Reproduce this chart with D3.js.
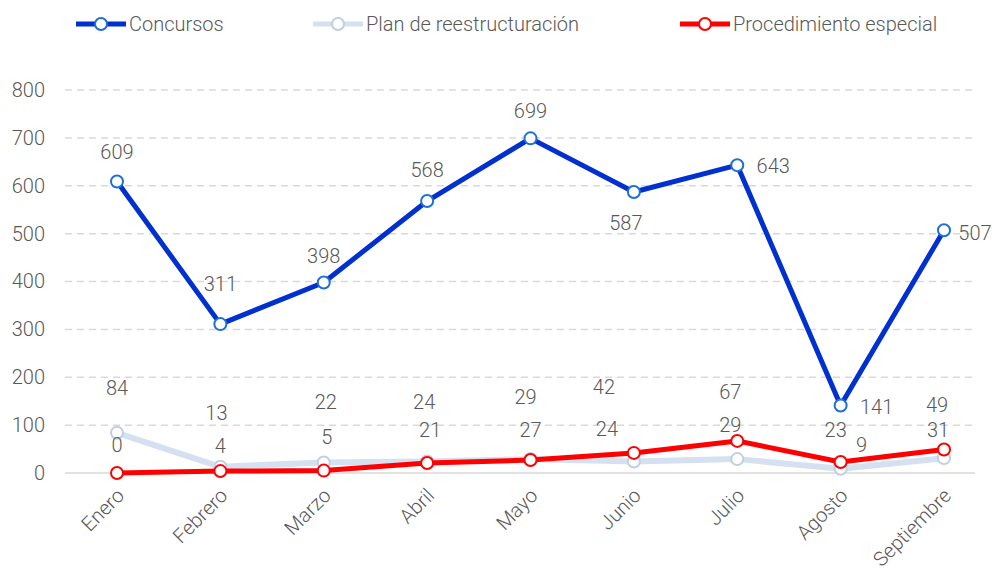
<!DOCTYPE html>
<html>
<head>
<meta charset="utf-8">
<script src="https://cdn.jsdelivr.net/npm/d3@7"></script>
<style>
  body { margin: 0; background: #fff; }
  text { font-family: "Roboto", "Liberation Sans", sans-serif; font-weight: 300; fill: #595959; }
</style>
</head>
<body>
<svg id="chart" width="992" height="573"></svg>
<script>
var months = ["Enero", "Febrero", "Marzo", "Abril", "Mayo", "Junio", "Julio", "Agosto", "Septiembre"]
var concursos = [609, 311, 398, 568, 699, 587, 643, 141, 507]
var planReestructuracion = [84, 13, 22, 24, 29, 24, 29, 9, 31]
var procedimientoEspecial = [0, 4, 5, 21, 27, 42, 67, 23, 49]
var yTicks = [0, 100, 200, 300, 400, 500, 600, 700, 800]

// label offsets (dx, dy from the point), placed by hand like the original
var offConcursos = [[0, -29], [0, -40], [0, -26], [0, -31], [0, -27], [-8, 31], [36, 1], [36, 2], [31, 3]]
var offPlan = [[0, -45], [-4, -54], [2, -60], [-3, -60], [-5, -62], [-27, -33], [-7, -34], [21, -24], [-6, -28]]
var offProc = [[0, -28], [0, -25], [3, -34], [3, -33], [0, -30], [-30, -66], [-7, -49], [-5, -32], [-7, -45]]

var svg = d3.select("#chart")

var x = d3.scalePoint()
    .domain(months)
    .range([117, 944])

var y = d3.scaleLinear()
    .domain([0, 800])
    .range([473, 90])

// grid
svg.append("g")
    .selectAll("line")
    .data(yTicks.filter(function(d) { return d > 0 }))
    .enter()
    .append("line")
    .attr("x1", 65)
    .attr("x2", 975)
    .attr("y1", function(d) { return y(d) })
    .attr("y2", function(d) { return y(d) })
    .attr("stroke", "#d9d9d9")
    .attr("stroke-width", 1.5)
    .attr("stroke-dasharray", "7,5")

svg.append("line")
    .attr("x1", 65)
    .attr("x2", 975)
    .attr("y1", y(0))
    .attr("y2", y(0))
    .attr("stroke", "#d9d9d9")
    .attr("stroke-width", 1.5)

// y axis labels
var yAxis = d3.axisLeft(y).tickValues(yTicks).tickSize(0).tickPadding(0)
var yg = svg.append("g")
    .attr("transform", "translate(45,0)")
    .call(yAxis)
yg.select(".domain").remove()
yg.selectAll("text")
    .attr("font-size", "20px")
    .attr("font-family", null)
    .attr("fill", "#595959")

// x axis labels
var xAxis = d3.axisBottom(x).tickSize(0).tickPadding(0)
var xg = svg.append("g")
    .attr("transform", "translate(0,487)")
    .call(xAxis)
xg.select(".domain").remove()
xg.selectAll("text")
    .attr("font-size", "20px")
    .attr("font-family", null)
    .attr("fill", "#595959")
    .attr("text-anchor", "end")
    .attr("dy", "0.7em")
    .attr("transform", "translate(-2,0) rotate(-45)")

var series = [
    { name: "Plan de reestructuración", values: planReestructuracion, color: "#d5e1f1", stroke: "#c0cfe3", width: 6, offs: offPlan },
    { name: "Procedimiento especial", values: procedimientoEspecial, color: "#ff0000", stroke: "#ff0000", width: 5, offs: offProc },
    { name: "Concursos", values: concursos, color: "#0030d0", stroke: "#1f6fd6", width: 5, offs: offConcursos }
]

var line = d3.line()
    .x(function(d, i) { return x(months[i]) })
    .y(function(d) { return y(d) })

series.forEach(function(s) {
    var g = svg.append("g")
    g.append("path")
        .attr("d", line(s.values))
        .attr("fill", "none")
        .attr("stroke", s.color)
        .attr("stroke-width", s.width)
        .attr("stroke-linejoin", "round")

    g.selectAll("circle")
        .data(s.values)
        .enter()
        .append("circle")
        .attr("cx", function(d, i) { return x(months[i]) })
        .attr("cy", function(d) { return y(d) })
        .attr("r", 6)
        .attr("fill", "#fff")
        .attr("stroke", s.stroke)
        .attr("stroke-width", 2)
})

series.forEach(function(s) {
    svg.append("g")
        .selectAll("text")
        .data(s.values)
        .enter()
        .append("text")
        .attr("x", function(d, i) { return x(months[i]) + s.offs[i][0] })
        .attr("y", function(d, i) { return y(d) + s.offs[i][1] })
        .attr("dy", "0.35em")
        .attr("text-anchor", "middle")
        .attr("font-size", "20px")
        .text(function(d) { return d })
})

// legend
var legendItems = [
    { name: "Concursos", color: "#0030d0", stroke: "#1f6fd6", x: 76 },
    { name: "Plan de reestructuración", color: "#d5e1f1", stroke: "#c0cfe3", x: 313 },
    { name: "Procedimiento especial", color: "#ff0000", stroke: "#ff0000", x: 680 }
]
var lg = svg.append("g").selectAll("g")
    .data(legendItems)
    .enter()
    .append("g")
    .attr("transform", function(d) { return "translate(" + d.x + ",24)" })
lg.append("line")
    .attr("x1", 0).attr("x2", 50)
    .attr("stroke", function(d) { return d.color })
    .attr("stroke-width", 5)
lg.append("circle")
    .attr("cx", 25).attr("r", 6)
    .attr("fill", "#fff")
    .attr("stroke", function(d) { return d.stroke })
    .attr("stroke-width", 2)
lg.append("text")
    .attr("x", 53)
    .attr("dy", "0.35em")
    .attr("font-size", "20px")
    .text(function(d) { return d.name })
</script>
</body>
</html>
